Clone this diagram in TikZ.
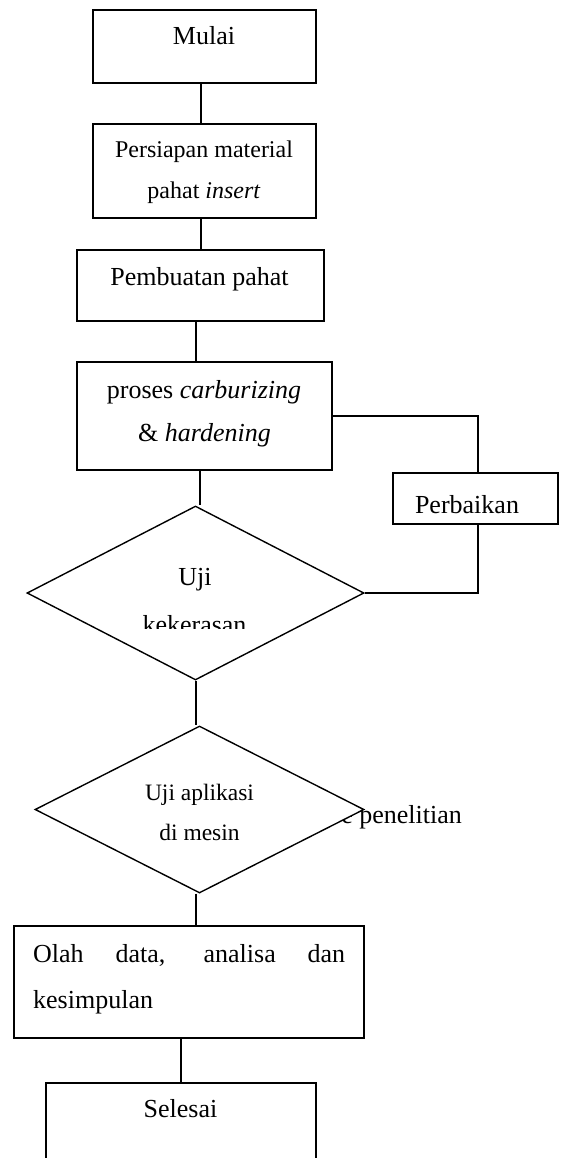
\documentclass[tikz,border=0pt]{standalone}
\usepackage{fontspec}
\setmainfont{Liberation Serif}
\usetikzlibrary{shapes.geometric, calc}

\begin{document}
\begin{tikzpicture}[x=1pt, y=1pt,
	kotak/.style={rectangle, draw, line width=1.4pt, inner sep=0pt, fill=white},
	belah/.style={diamond, draw, line width=1.4pt, inner sep=0pt, fill=white},
	teks/.style={anchor=base, inner sep=0pt, font=\fontsize{26}{30}\selectfont},
	teksk/.style={teks, font=\fontsize{24}{28}\selectfont},
	garis/.style={line width=1.4pt}]

	\clip (0,0) rectangle (560,-1158);

	% kotak dan belah ketupat
	\node[kotak, minimum width=223pt, minimum height=73pt]  (mulai)     at (204.5,-46.5) {};
	\node[kotak, minimum width=223pt, minimum height=94pt]  (persiapan) at (204.5,-171) {};
	\node[kotak, minimum width=247pt, minimum height=71pt]  (pembuatan) at (200.5,-285.5) {};
	\node[kotak, minimum width=255pt, minimum height=108pt] (proses)    at (204.5,-416) {};
	\node[kotak, minimum width=165pt, minimum height=51pt]  (perbaikan) at (475.5,-498.5) {};
	\node[belah, minimum width=337pt, minimum height=174pt] (uji1)      at (195.5,-593) {};
	\node[teks, anchor=base east] (ket) at (462,-823) {e penelitian};
	\node[belah, minimum width=329pt, minimum height=167pt] (uji2)      at (199.5,-809.5) {};
	\node[kotak, minimum width=350pt, minimum height=112pt] (olah)      at (189,-982) {};
	\node[kotak, minimum width=270pt, minimum height=100pt] (selesai)   at (181,-1133) {};

	% teks
	\node[teks]  (tmulai) at (204,-45) {Mulai};
	\node[teksk] (tpers1) at (204,-158) {Persiapan material};
	\node[teksk] (tpers2) at (204,-199) {pahat \textit{insert}};
	\node[teks]  (tbuat)  at (199.5,-285) {Pembuatan pahat};
	\node[teks]  (tpros1) at (204,-398) {proses \textit{carburizing}};
	\node[teks]  (tpros2) at (204.5,-441) {\& \textit{hardening}};
	\node[teks]  (tbaik)  at (467,-513) {Perbaikan};
	\node[teks]  (tuji1)  at (195,-585) {Uji};
	\begin{scope}
		\clip (30,-600) rectangle (360,-628);
		\node[teks] (tuji2) at (194.5,-633) {kekerasan};
	\end{scope}
	\node[teks, font=\fontsize{23.5}{28}\selectfont] (tapl1) at (199.5,-800) {Uji aplikasi};
	\node[teks, font=\fontsize{23.5}{28}\selectfont] (tapl2) at (199.5,-840) {di mesin};
	\node[teks, anchor=base west] (tolah1) at (33,-962) {\makebox[312pt][s]{Olah data, analisa dan}};
	\node[teks, anchor=base west] (tolah2) at (33,-1008) {kesimpulan};
	\node[teks]  (tsel)   at (180.5,-1117) {Selesai};

	% garis penghubung
	\draw[garis] ([xshift=-3.5pt]mulai.south) -- ([xshift=-3.5pt]persiapan.north);
	\draw[garis] ([xshift=0.5pt]pembuatan.north) -- ([xshift=0.5pt]pembuatan.north |- persiapan.south);
	\draw[garis] ([xshift=-4.5pt]pembuatan.south) -- ([xshift=-4.5pt]pembuatan.south |- proses.north);
	\draw[garis] ([xshift=-4.5pt]proses.south) -- ([xshift=-4.5pt]proses.south |- uji1.north);
	\draw[garis] ([xshift=0.5pt]uji1.south) -- ([xshift=0.5pt]uji1.south |- uji2.north);
	\draw[garis] ([xshift=-3.5pt]uji2.south) -- ([xshift=-3.5pt]uji2.south |- olah.north);
	\draw[garis] (selesai.north) -- (selesai.north |- olah.south);
	\draw[garis] (proses.east) -- ([xshift=2.5pt]perbaikan.north |- proses.east) -- ([xshift=2.5pt]perbaikan.north);
	\draw[garis] ([xshift=2.5pt]perbaikan.south) -- ([xshift=2.5pt]perbaikan.south |- uji1.east) -- (uji1.east);
\end{tikzpicture}
\end{document}
